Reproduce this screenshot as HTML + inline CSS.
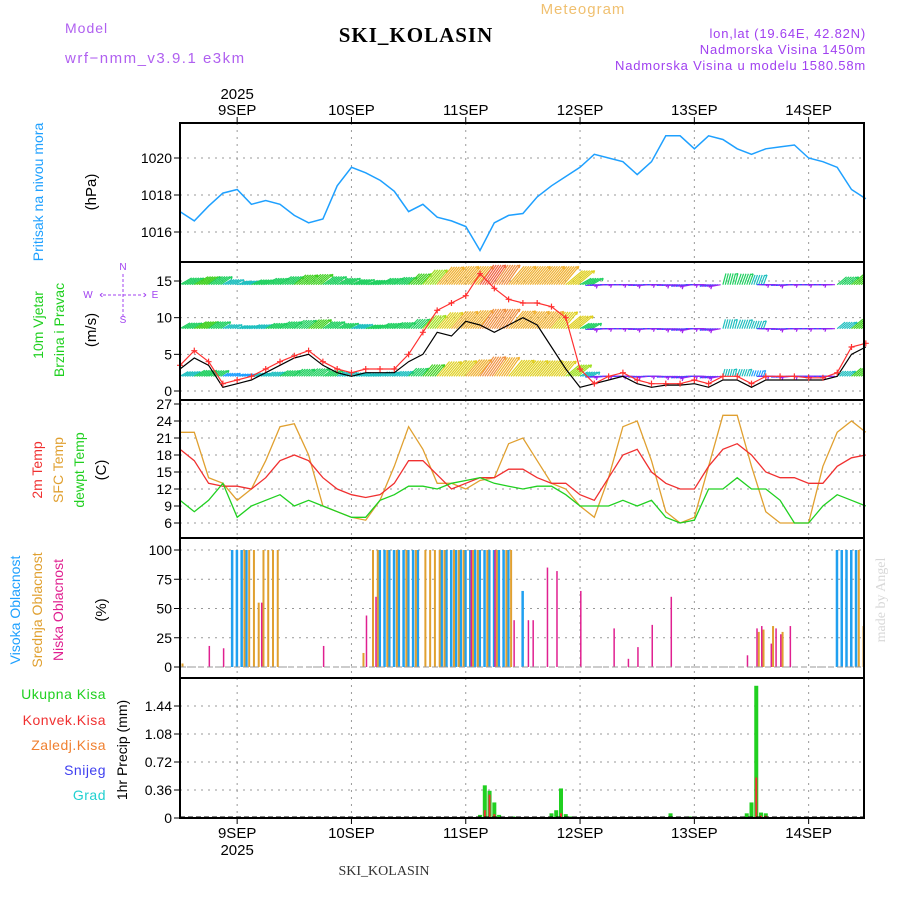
<!DOCTYPE html>
<html><head><meta charset="utf-8"><style>
body{margin:0;background:#fff;}
svg{display:block;font-family:"Liberation Sans",sans-serif;}
</style></head><body>
<svg id="c" width="900" height="900" viewBox="0 0 900 900">
<defs><clipPath id="wclip"><rect x="180" y="262" width="684" height="138"/></clipPath></defs>
<text x="65" y="33" font-size="14" fill="#b060f0" letter-spacing="1">Model</text>
<text x="65" y="63" font-size="15" fill="#b060f0" letter-spacing="1.5">wrf−nmm_v3.9.1 e3km</text>
<text x="416" y="42" font-size="21" font-weight="bold" font-family="Liberation Serif,serif" text-anchor="middle" fill="#000" letter-spacing="1">SKI_KOLASIN</text>
<text x="583" y="14" font-size="15" fill="#f0c070" text-anchor="middle" letter-spacing="1">Meteogram</text>
<text x="866" y="38" font-size="13" fill="#a040f0" text-anchor="end" letter-spacing="0.8">lon,lat (19.64E, 42.82N)</text>
<text x="866" y="54" font-size="13" fill="#a040f0" text-anchor="end" letter-spacing="0.8">Nadmorska Visina 1450m</text>
<text x="866" y="70" font-size="13" fill="#a040f0" text-anchor="end" letter-spacing="0.8">Nadmorska Visina u modelu 1580.58m</text>
<text x="384" y="875" font-size="14" font-family="Liberation Serif,serif" text-anchor="middle" fill="#333">SKI_KOLASIN</text>
<text transform="translate(885,600) rotate(-90)" font-size="14" font-family="Liberation Serif,serif" fill="#d8d8d8" text-anchor="middle">made by Angel</text>
<g id="plots"></g>
</svg>
<script>
const pressure=[1017.1,1016.6,1017.4,1018.1,1018.3,1017.5,1017.7,1017.5,1016.9,1016.5,1016.7,1018.5,1019.5,1019.2,1018.8,1018.2,1017.1,1017.5,1016.8,1016.6,1016.3,1015,1016.5,1016.9,1017,1017.9,1018.5,1019,1019.5,1020.2,1020,1019.8,1019.1,1019.8,1021.2,1021.2,1020.5,1021.2,1021,1020.5,1020.2,1020.5,1020.6,1020.7,1020,1019.8,1019.5,1018.3,1017.8];
const windSpeed=[3.5,5.5,4,1,1.5,2,3,4,4.8,5.5,4,3,2.5,3,3,3,5,8,11,12,13,16,14,12.5,12,12,11.5,10,3,1,2,2.5,1.5,1,1,1,1.5,1,2,2,1,2,2,2,1.8,1.8,2.5,6,6.5];
const windAlt=[3,4.5,3.5,0.5,1,1.5,2.5,3.5,4.5,5,3.5,2.5,2,2.5,2.5,2.5,4,5,8,7.5,9.5,9,8,9,10,9,6,3,0.5,1,1.5,2,1,0.5,0.8,0.8,1,0.5,1.5,1.5,0.5,1.5,1.5,1.5,1.5,1.5,2,5,6];
const windDir=[30,30,35,30,20,25,30,35,40,40,35,30,25,20,30,35,45,50,50,50,50,55,55,50,50,50,50,40,30,185,180,180,185,180,185,190,180,190,75,70,70,180,185,180,180,180,40,40,40];
const tempRed=[19,17,13,12.5,12.5,12,14,17,18,17,14,12,11,10.5,11,13,17,17,14.5,12,13,14,14,15.5,15.5,14,13,13,11,10,14,18,19,15,13,12,12,16,19,20,18,15,14,14,13,13,16,17.5,18];
const tempSfc=[22,22,14,13,10,12,17,23,23.5,18,9,8,7,6.5,10,16,23,19,13,13,12,13.5,14,20,21,17,13,12,9,7,14,23,24,17,8,6,7,16,25,25,16,8,6,6,6,16,22,24,22];
const tempDew=[10,8,10,13,7,9,10,11,9,10,9,8,7,7,10,11,12.5,12.5,12,13,13.5,14,13,12.5,12,12.5,12.5,11,9,9,9,10,9,10,7,6,6.5,12,12,14,12,12,10,6,6,9,11,10,9];
const cloudHighHours=[11,12,13,14,42,43,44,45,46,47,48,49,50,55,56,57,58,59,60,61,62,63,64,65,66,67,68,69,72,138,139,140,141,142];
const cloudHighVals=[100,100,100,100,100,100,100,100,100,100,100,100,100,100,100,100,100,100,100,100,100,100,100,100,100,100,100,100,65,100,100,100,100,100];
const cloudMidHours=[0,13,14,15,16,17,18,19,20,38,40,41,43,45,47,49,51,52,53,54,55,57,58,59,61,62,64,66,68,69,121,122,124,126,142,143];
const cloudMidVals=[3,100,100,100,55,100,100,100,100,12,100,100,100,100,100,100,100,100,100,100,100,100,100,100,100,100,100,100,100,100,30,32,35,30,100,35];
const cloudLowHours=[6,9,17,30,39,41,61,66,70,73,74,77,79,84,91,94,96,99,103,119,121,122,124,125,126,128];
const cloudLowVals=[18,16,55,18,44,60,100,100,40,40,40,85,82,65,33,7,17,36,60,10,33,35,20,33,28,35];
const precipHours=[63,64,65,66,67,70,78,79,80,81,82,103,107,119,120,121,122,123];
const precipTotal=[0.04,0.42,0.35,0.2,0.04,0.02,0.06,0.1,0.38,0.05,0.02,0.06,0.02,0.06,0.2,1.7,0.07,0.06];
const precipConv=[0,0.1,0.3,0.05,0,0,0,0,0.06,0,0,0,0,0,0,0.52,0.03,0.03];
const dayLabels=["9SEP","10SEP","11SEP","12SEP","13SEP","14SEP"];
const pTicks=[1016,1018,1020];
const wTicks=[0,5,10,15];
const tTicks=[6,9,12,15,18,21,24,27];
const cTicks=[0,25,50,75,100];
const rTicks=[0,0.36,0.72,1.08,1.44];

const NS="http://www.w3.org/2000/svg";
const G=document.getElementById('plots');
const X0=180,X1=864;
const xh=h=>X0+h*(114.3/24);
function el(t,a,p){const e=document.createElementNS(NS,t);for(const k in a)e.setAttribute(k,a[k]);(p||G).appendChild(e);return e;}
function txt(x,y,s,a,name){const e=el('text',Object.assign({x:x,y:y},a));e.textContent=s;

return e;}
function lin(d0,d1,r0,r1){return v=>r0+(v-d0)*(r1-r0)/(d1-d0);}
const panels=[
 {name:'pressure',top:123,bot:262,y:lin(1016,1020,232,158),ticks:pTicks,fmt:v=>v},
 {name:'wind',top:262,bot:400,y:lin(0,15,391,281),ticks:wTicks,fmt:v=>v},
 {name:'temp',top:400,bot:538,y:lin(6,27,523,404),ticks:tTicks,fmt:v=>v},
 {name:'cloud',top:538,bot:678,y:lin(0,100,667,550),ticks:cTicks,fmt:v=>v},
 {name:'precip',top:678,bot:818,y:lin(0,1.44,818,706),ticks:rTicks,fmt:v=>v===0?'0':v.toFixed(2)}
];
panels.forEach(p=>{
  const g=el('g',{});
  
  
  for(let d=0;d<6;d++){const x=xh(12+24*d);el('line',{x1:x,x2:x,y1:p.top,y2:p.bot,stroke:'#999','stroke-dasharray':'2,5'},g);}
  p.ticks.forEach(v=>{const y=p.y(v);
    if(y>p.top+2&&y<p.bot-2)el('line',{x1:X0,x2:X1,y1:y,y2:y,stroke:'#999','stroke-dasharray':'2,5'},g);
    el('line',{x1:X0-6,x2:X0,y1:y,y2:y,stroke:'#000'},g);
    const t=txt(X0-8,y+5,p.fmt(v),{'font-size':14,'text-anchor':'end',fill:'#000'},p.name+'-tick-label');g.appendChild(t);});
  p.g=g;
});
function path(arr,yf,color,name,w){let d='';arr.forEach((v,i)=>{d+=(i?'L':'M')+xh(i*3).toFixed(1)+','+yf(v).toFixed(1);});
 const e=el('path',{d:d,fill:'none',stroke:color,'stroke-width':w||1.3});
 
 return e;}
// pressure
path(pressure,panels[0].y,'#1ea0ff','pressure-line',1.5);
// wind arrows
const wy=panels[1].y;
const WG=el('g',{'clip-path':'url(#wclip)'});


function spdColor(s){const c=['#a020f0','#3050ff','#20a0ff','#20c0c0','#20d060','#40d020','#a0e020','#e0d020','#f0b030','#f09040','#f06040'];return c[Math.max(0,Math.min(10,Math.floor(s)))];}
[2,8.5,14.5].forEach((lev,li)=>{
  windSpeed.forEach((s,i)=>{const x=xh(i*3),y=wy(lev);const ang=windDir[i]*Math.PI/180;
    const east=(windDir[i]>90&&windDir[i]<270);
    const L=east?9:Math.min(24,5+s*1.3+li*2);
    const dx=Math.cos(ang)*L,dy=-Math.sin(ang)*L;
    const col=spdColor(s*0.45+2.3+li*0.4);
    for(let k=0;k<6;k++){const ox=k*2.4;
    const a=el('path',{d:`M${x+ox},${y}l${dx},${dy}`+(k==5?`m0,0l${-3},${1}m3,-1l${-1},${3}`:''),stroke:east?(k%2?'#a020f0':'#3050ff'):col,'stroke-width':1.2,fill:'none'},WG);
    
    }
  });
});
path(windAlt,wy,'#000','wind-secondary-line',1.2);
path(windSpeed,wy,'#ff3030','wind-speed-line',1.2);
windSpeed.forEach((v,i)=>{const x=xh(i*3),y=wy(v);
 const m=el('path',{d:`M${x-3},${y}h6M${x},${y-3}v6`,stroke:'#ff3030','stroke-width':1.2});
 
 });
// temps
path(tempSfc,panels[2].y,'#e0a030','sfc-temp-line',1.3);
path(tempRed,panels[2].y,'#f03030','2m-temp-line',1.3);
path(tempDew,panels[2].y,'#20d020','dewpoint-line',1.3);
// clouds
const cy=panels[3].y;
function bars(hours,vals,color,off,name,yf,w){hours.forEach((h,i)=>{const x=xh(h)+off,y=yf(vals[i]);
 const r=el('rect',{x:x,y:y,width:w,height:yf(0)-y,fill:color});
 
 });}
bars(cloudHighHours,cloudHighVals,'#20a0f0',-1.5,'high-cloud-bar',cy,2.5);
bars(cloudMidHours,cloudMidVals,'#e0a030',1.5,'mid-cloud-bar',cy,2);
bars(cloudLowHours,cloudLowVals,'#e02090',0,'low-cloud-bar',cy,1.5);
el('line',{x1:X0,x2:X1,y1:cy(0),y2:cy(0),stroke:'#999','stroke-dasharray':'6,3'});
// precip
const ry=panels[4].y;
bars(precipHours,precipTotal,'#20d020',-2,'total-precip-bar',ry,4);
bars(precipHours,precipConv,'#f03030',-1,'convective-precip-bar',ry,2);
el('line',{x1:X0,x2:X1,y1:817,y2:817,stroke:'#000','stroke-dasharray':'5,3'});
// borders
panels.forEach(p=>{el('rect',{x:X0,y:p.top,width:X1-X0,height:p.bot-p.top,fill:'none',stroke:'#000','stroke-width':2});});
// time labels
dayLabels.forEach((s,d)=>{const x=xh(12+24*d);
 txt(x,115,s,{'font-size':15,'text-anchor':'middle'},'top-day-label');
 txt(x,838,s,{'font-size':15,'text-anchor':'middle'},'bottom-day-label');
 el('line',{x1:x,x2:x,y1:117,y2:123,stroke:'#000'});
 el('line',{x1:x,x2:x,y1:818,y2:824,stroke:'#000'});});
txt(xh(12),99,'2025',{'font-size':15,'text-anchor':'middle'},'top-year-label');
txt(xh(12),855,'2025',{'font-size':15,'text-anchor':'middle'},'bottom-year-label');
// rotated labels
function rot(x,y,s,c,name,fs){const e=txt(0,0,s,{'font-size':fs||14,fill:c,'text-anchor':'middle',transform:`translate(${x},${y}) rotate(-90)`},name);return e;}
rot(43,192,'Pritisak na nivou mora','#1ea0ff','pressure-axis-title');
rot(96,192,'(hPa)','#000','pressure-unit',15);
rot(43,325,'10m Vjetar','#20d020','wind-axis-title');
rot(64,330,'Brzina i Pravac','#20d020','wind-axis-subtitle');
rot(96,330,'(m/s)','#000','wind-unit',15);
rot(42,470,'2m Temp','#f03030','temp-axis-title');
rot(63,470,'SFC Temp','#e0a030','sfc-temp-axis-title');
rot(84,470,'dewpt Temp','#20d020','dewpoint-axis-title');
rot(106,470,'(C)','#000','temp-unit',15);
rot(20,610,'Visoka Oblacnost','#1ea0ff','high-cloud-axis-title');
rot(42,610,'Srednja Oblacnost','#e0a030','mid-cloud-axis-title');
rot(63,610,'Niska Oblacnost','#e02090','low-cloud-axis-title');
rot(106,610,'(%)','#000','cloud-unit',15);
rot(127,750,'1hr Precip (mm)','#000','precip-axis-title',14);
[['Ukupna Kisa','#20d020',699],['Konvek.Kisa','#f03030',725],['Zaledj.Kisa','#f08030',750],['Snijeg','#4040f0',775],['Grad','#20d0d0',800]].forEach(a=>{
 txt(106,a[2],a[0],{'font-size':14,fill:a[1],'text-anchor':'end','letter-spacing':0.5},'precip-legend-entry');});
// compass
txt(123,270,'N',{'font-size':10,fill:'#a040f0','text-anchor':'middle'},'compass-n');
txt(88,298,'W',{'font-size':10,fill:'#a040f0','text-anchor':'middle'},'compass-w');
txt(155,298,'E',{'font-size':10,fill:'#a040f0','text-anchor':'middle'},'compass-e');
txt(123,323,'S',{'font-size':10,fill:'#a040f0','text-anchor':'middle'},'compass-s');
const cp=el('path',{d:'M123,274v42M103,295h40M100,295l4,-3M100,295l4,3M146,295l-4,-3M146,295l-4,3',stroke:'#a040f0','stroke-dasharray':'3,2',fill:'none'});


</script>
</body></html>
